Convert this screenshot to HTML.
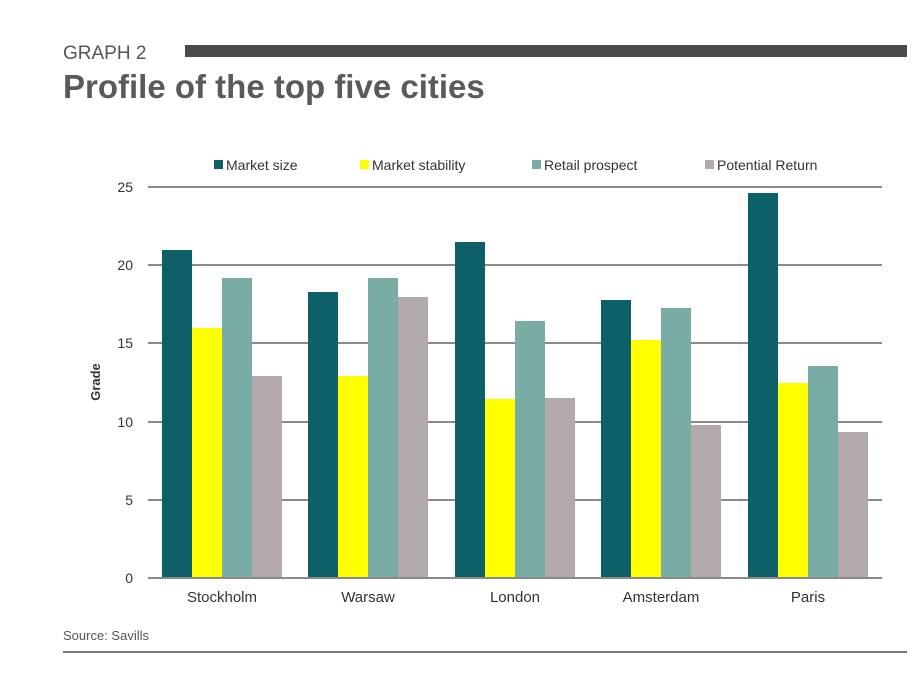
<!DOCTYPE html>
<html><head><style>
body{margin:0;background:#fff;width:922px;height:688px;overflow:hidden;font-family:"Liberation Sans",sans-serif}
</style></head><body>
<svg width="922" height="688" xmlns="http://www.w3.org/2000/svg" font-family="Liberation Sans, sans-serif">
<text x="63" y="59" font-size="19" fill="#555">GRAPH 2</text>
<rect x="185" y="45" width="722" height="12" fill="#4a4a4a"/>
<text x="63" y="98" font-size="33" font-weight="bold" fill="#5a5a5a">Profile of the top five cities</text>
<g font-size="14" fill="#333">
<rect x="214" y="160" width="9" height="9" fill="#0d5f68"/><text x="226" y="170">Market size</text>
<rect x="360" y="160" width="9" height="9" fill="#ffff00"/><text x="372" y="170">Market stability</text>
<rect x="532" y="160" width="9" height="9" fill="#79aca4"/><text x="544" y="170">Retail prospect</text>
<rect x="705" y="160" width="9" height="9" fill="#b3a9aa"/><text x="717" y="170">Potential Return</text>
</g>
<g stroke="#8a8a8a" stroke-width="2">
<line x1="148" y1="187" x2="882" y2="187"/><line x1="148" y1="265" x2="882" y2="265"/>
<line x1="148" y1="343" x2="882" y2="343"/><line x1="148" y1="422" x2="882" y2="422"/>
<line x1="148" y1="500" x2="882" y2="500"/>
</g>
<g font-size="14" fill="#333" text-anchor="end">
<text x="133" y="192">25</text><text x="133" y="270">20</text><text x="133" y="348">15</text>
<text x="133" y="427">10</text><text x="133" y="505">5</text><text x="133" y="583">0</text>
</g>
<text transform="translate(100,382) rotate(-90)" font-size="13" font-weight="bold" fill="#333" text-anchor="middle">Grade</text>
<g>
<rect x="162" y="250" width="30" height="328" fill="#0d5f68"/><rect x="192" y="328" width="30" height="250" fill="#ffff00"/><rect x="222" y="278" width="30" height="300" fill="#79aca4"/><rect x="252" y="376" width="30" height="202" fill="#b3a9aa"/>
<rect x="308" y="292" width="30" height="286" fill="#0d5f68"/><rect x="338" y="376" width="30" height="202" fill="#ffff00"/><rect x="368" y="278" width="30" height="300" fill="#79aca4"/><rect x="398" y="297" width="30" height="281" fill="#b3a9aa"/>
<rect x="455" y="242" width="30" height="336" fill="#0d5f68"/><rect x="485" y="399" width="30" height="179" fill="#ffff00"/><rect x="515" y="321" width="30" height="257" fill="#79aca4"/><rect x="545" y="398" width="30" height="180" fill="#b3a9aa"/>
<rect x="601" y="300" width="30" height="278" fill="#0d5f68"/><rect x="631" y="340" width="30" height="238" fill="#ffff00"/><rect x="661" y="308" width="30" height="270" fill="#79aca4"/><rect x="691" y="425" width="30" height="153" fill="#b3a9aa"/>
<rect x="748" y="193" width="30" height="385" fill="#0d5f68"/><rect x="778" y="383" width="30" height="195" fill="#ffff00"/><rect x="808" y="366" width="30" height="212" fill="#79aca4"/><rect x="838" y="432" width="30" height="146" fill="#b3a9aa"/>
</g>
<line x1="148" y1="578" x2="882" y2="578" stroke="#8a8a8a" stroke-width="2"/>
<g font-size="15" fill="#333" text-anchor="middle">
<text x="222" y="602">Stockholm</text><text x="368" y="602">Warsaw</text><text x="515" y="602">London</text>
<text x="661" y="602">Amsterdam</text><text x="808" y="602">Paris</text>
</g>
<text x="63" y="640" font-size="13" fill="#555">Source: Savills</text>
<line x1="63" y1="652" x2="907" y2="652" stroke="#777" stroke-width="2"/>
</svg>
</body></html>
